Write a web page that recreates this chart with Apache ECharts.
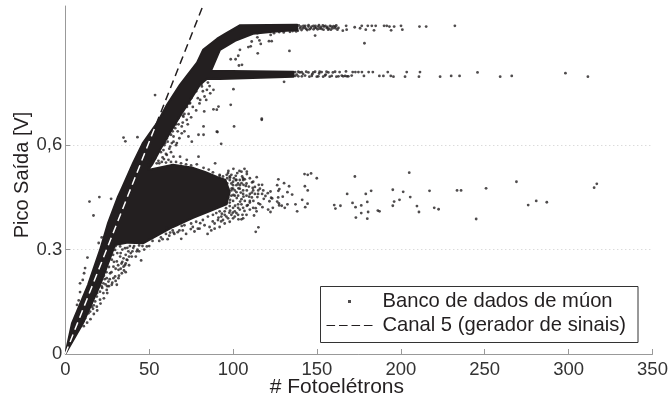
<!DOCTYPE html>
<html><head><meta charset="utf-8">
<style>html,body{margin:0;padding:0;background:#fff}#c{width:670px;height:401px}</style>
<script src="https://cdn.jsdelivr.net/npm/echarts@6/dist/echarts.min.js"></script>
</head><body><div id="c"></div>
<script>
const xTicks=[0,50,100,150,200,250,300,350];
const yTickValues=[0,0.3,0.6,0.9];
const yTickLabels=['0','0.3','0,6','0.9'];
const seriesDados='Banco de dados de múon';
const seriesCanal='Canal 5 (gerador de sinais)';
const canalLine=[[0,0],[82,1]];
const canalInsideMass=[[0,0],[54,0.6585]];
// outline of the region where the points merge into solid black
const denseMass=[[0,0],[4,.089],[13.5,.198],[20.7,.299],[25.5,.377],[31.4,.452],[33.8,.477],[40.4,.549],[46.3,.607],[54.7,.664],[60.6,.716],[68.4,.774],[78.5,.837],[82.1,.874],[90.5,.906],[95.2,.920],[104.2,.945],[138.2,.946],[138.2,.931],[123.8,.926],[111.9,.920],[101.2,.900],[92.2,.874],[89.2,.840],[86.9,.814],[136,.811],[136,.797],[92.2,.790],[84.5,.791],[80.3,.774],[77.3,.751],[69.6,.693],[62.4,.636],[56.5,.587],[51.7,.544],[49.3,.529],[64.2,.544],[76.2,.535],[83.3,.523],[90.5,.509],[95.5,.500],[98,.465],[96,.43],[88.1,.414],[76.2,.391],[64.2,.365],[54.7,.340],[46.3,.318],[37.4,.32],[29.6,.313],[20.7,.198],[10.6,.089]];
const blobDots=[[90.7,.638],[92.9,.604],[100.6,.654],[117.1,.673],[89.3,.548],[113.5,.351],[115.1,.364],[149.9,.505],[142.6,.517],[144.5,.515],[146.5,.519],[142.8,.482],[144.5,.470],[144.4,.432],[143,.422],[141.2,.443],[137.2,.430],[138.2,.410],[135.2,.458],[132.4,.465],[133.4,.482],[130.4,.491],[127,.502],[126.3,.485],[127.6,.474],[127,.469],[129.6,.452],[126.9,.450],[126.3,.438],[127.3,.433],[127.5,.427],[129,.426],[130.8,.420],[132.4,.430],[123.7,.420],[122.3,.408],[120.9,.415],[123.3,.447],[121.7,.439],[120.7,.462],[122.3,.467],[122.7,.449],[119.3,.454],[118.3,.446],[117.5,.422],[116.1,.430],[115.1,.433],[117.3,.460],[114.9,.460],[114.5,.451],[112.5,.398],[113.5,.419],[112.1,.440],[111.2,.450],[111.7,.477],[115.3,.486],[117.3,.486],[114.1,.508],[111.3,.493],[109.4,.481],[107.6,.483],[106.8,.532],[108.2,.524],[108.2,.517],[107,.502],[105.4,.510],[103.8,.526],[100.2,.532],[105,.524],[97.2,.526],[96.2,.515],[101.6,.512],[101.6,.500],[98.2,.507],[105,.491],[106.2,.486],[108.2,.470],[111.2,.464],[109.6,.452],[108.8,.428],[108.2,.426],[106.8,.411],[105.6,.400],[105,.387],[103.2,.387],[99.8,.406],[98.2,.412],[97.8,.406],[101.2,.426],[104.2,.438],[102.2,.448],[92.9,.381],[91.3,.392],[93.3,.403],[95.8,.419],[87.9,.381],[106.2,.452],[104.6,.464],[98.2,.443],[100.2,.457],[96.2,.433],[99.2,.476],[103.2,.476],[94,.50],[97,.45],[99,.49],[101,.47],[103,.455],[105,.445],[100,.44],[98,.425],[94,.51],[92,.515],[98,.50],[100,.485],[102,.50],[103,.49],[106,.47],[101,.455],[99,.47],[103,.43],[100,.42],[98,.435],[95,.41],[92,.41],[90,.405],[88,.40],[85,.395],[82,.385],[78,.38],[75,.375],[71,.37],[68,.355],[64,.355],[60,.345],[57,.335],[52,.325],[96,.395],[94,.385],[89,.375],[86,.365],[80,.36],[77,.352],[72,.345],[67,.35],[62,.34],[58,.33],[97,.52],[99,.515],[100.5,.505],[102.5,.52],[104,.50],[106,.50],[98,.51],[96.5,.505],[100,.495],[102,.485],[104,.475],[106,.46],[108,.455],[110,.46],[112,.47],[113,.48],[110,.44],[107,.44],[105,.43],[103,.42],[101,.41],[99,.40],[97,.39],[95,.40],[93,.395],[91,.385],[100,.39],[102,.405],[104,.415],[106,.42],[110,.435],[99,.455],[97,.475],[96.5,.49],[100,.475],[102,.465],[104,.485],[106,.505],[108,.49],[110,.505],[112,.495],[113,.46],[115,.47],[116,.475],[118,.47],[110,.415],[112,.42],[114,.41],[108,.40],[106,.39],[103,.40],[101,.395],[98,.38],[95,.375],[92,.365],[89,.36],[87,.355],[83,.37],[79,.36],[76,.365],[70,.355],[65,.345],[61,.33],[56,.325],[50,.31]];
const farDots=[[160.3,.428],[161,.418],[164,.426],[168,.460],[172.6,.510],[171.2,.434],[173,.422],[176.4,.427],[173.2,.392],[176.4,.405],[180,.389],[180.5,.408],[180,.437],[179.1,.460],[182.3,.469],[186.3,.412],[187.3,.410],[195.2,.426],[196,.438],[195.2,.472],[199.2,.443],[201.4,.466],[205,.521],[205.6,.451],[209.6,.425],[210.8,.408],[217.1,.469],[219.9,.420],[222.5,.416],[233.5,.470],[235.9,.470],[250.8,.476],[244.9,.388],[268.9,.495],[275.9,.428],[280.7,.440],[287,.436],[315.2,.478],[316.8,.489]];
const plateauTopDots=[[148.9,.915],[178.3,.893],[133.6,.871],[114.7,.864],[98.6,.847],[101.5,.847],[103.1,.857],[103.5,.829],[105.3,.831],[104.1,.874],[109.1,.882],[110.5,.884],[111.1,.898],[114.5,.910],[115.7,.901],[116.5,.891],[121.4,.899],[123,.899],[122.4,.917],[124.4,.922],[114.5,.922],[165.4,.929],[167.7,.932],[167.4,.943],[172.5,.939],[175.7,.936],[176.7,.943],[179.1,.932],[180.3,.943],[182.7,.943],[185,.943],[184,.930],[190,.943],[191.6,.943],[193.2,.941],[194.2,.930],[196,.941],[200.1,.943],[200.9,.932],[211.1,.941],[215.1,.941],[232.2,.943],[139.9,.936],[141.9,.943],[143.5,.934],[144.9,.941],[146.3,.936],[147.9,.943],[149.5,.937],[150.8,.941],[152.8,.934],[154.2,.941],[155.8,.937],[157.8,.943],[159.4,.936],[160.8,.941],[162.2,.932],[162.8,.937],[140.5,.941],[142.8,.938],[145.6,.933],[148.6,.938],[151.7,.935],[153.5,.944],[156.7,.932],[158.6,.941],[161.5,.944],[138.6,.929],[135.5,.928],[130.2,.924],[127.5,.925],[139.2,.944],[140.8,.931],[141.7,.936],[143,.943],[144.2,.931],[145,.945],[146.8,.941],[148,.933],[149.1,.943],[150.4,.933],[151.2,.945],[152.3,.939],[153.9,.932],[155,.943],[156.2,.940],[157.1,.935],[158.3,.932],[159.9,.942],[161,.936],[136.8,.93],[133.9,.926],[137.6,.927]];
const plateauLowDots=[[130.4,.782],[100.2,.761],[98.6,.716],[117.1,.676],[167.3,.812],[171.3,.810],[172.9,.810],[174.7,.810],[176.8,.810],[180.8,.810],[183.3,.810],[192.2,.810],[203.5,.810],[211.4,.810],[178,.799],[187.2,.799],[189.6,.799],[194,.799],[195.6,.797],[202.5,.797],[210.8,.797],[223.4,.797],[230,.799],[235,.799],[245.7,.809],[259.2,.797],[266.1,.799],[298.1,.807],[311.5,.797],[137,.810],[137,.799],[138.9,.811],[138.9,.798],[140.9,.810],[142.9,.800],[144.9,.809],[146.9,.799],[148.9,.811],[150.8,.798],[152.8,.810],[154.8,.800],[156.8,.809],[158.8,.799],[160.8,.811],[162.8,.798],[164.8,.800],[166.8,.799],[168.7,.798],[170.7,.800],[138,.803],[141.7,.805],[147.2,.804],[151.3,.806],[155.2,.803],[139.8,.809],[141,.798],[143.6,.811],[145.5,.797],[147.8,.809],[149.9,.797],[151.6,.811],[153.7,.797],[155.7,.811],[157.6,.797],[159.5,.809],[161.6,.797],[163.5,.810],[165.6,.798],[167.9,.798]];
const gapDots=[[53.5,.744],[34.7,.622],[35.8,.611],[43,.623],[81.4,.769],[84.4,.759],[86.4,.749],[88.3,.759],[82.8,.697],[88.3,.703],[91.3,.711],[90.3,.702],[80.4,.730],[74.4,.721],[72.4,.673],[69.4,.654],[65.5,.649],[64.5,.625],[60.5,.620],[58.5,.586],[62.5,.596],[66.5,.606],[69.4,.634],[73.4,.625],[75.4,.610],[79.4,.630],[82.4,.630],[90.3,.639],[79.4,.567],[82.4,.654],[72.4,.558],[68.4,.567],[64.5,.567],[60.5,.572],[70.4,.682],[67.5,.678],[63.5,.606],[59.5,.606],[54.5,.548],[51.6,.553],[49.6,.543],[78.4,.545],[82.4,.535],[57,.58],[59,.60],[63,.63],[66,.66],[70,.685],[72.5,.71],[75,.735],[78,.755],[81,.775],[55.5,.555],[52,.56],[57.5,.552],[60,.55],[63,.552],[56,.548],[58.8,.56],[61.5,.558],[66,.552],[69,.548],[72,.545],[75,.542],[53.5,.562],[50.5,.558],[64,.64],[61,.61],[67.5,.66],[71,.69],[74,.72],[85.5,.530],[88,.522],[92,.512],[83,.74],[84,.73],[80,.72],[78,.70],[75,.68],[73,.66],[71,.64],[68,.62],[66,.60],[63,.58],[60,.575],[58,.565],[86,.77],[85,.78],[82,.755],[79,.735],[76,.71],[73.5,.69],[70,.665],[67,.64],[64.5,.61],[62,.59]];
const lowerDots=[[14.4,.438],[16.8,.398],[20.3,.451],[27.3,.446],[13.2,.277],[11.8,.247],[11.2,.232],[10.4,.213],[8.8,.203],[8.8,.178],[8,.154],[7,.141],[19.9,.319],[21.7,.335],[12.8,.136],[14.8,.151],[16.8,.165],[18.8,.136],[20.7,.156],[22.7,.175],[24.7,.184],[27.7,.199],[30.7,.199],[29.7,.223],[31.7,.242],[34.7,.251],[33.7,.232],[36.6,.271],[39.6,.280],[42.6,.295],[37.6,.295],[32.7,.280],[28.7,.251],[24.7,.218],[21.7,.194],[18.8,.165],[15.8,.136],[13.8,.117],[11.8,.103],[26.7,.232],[30.7,.266],[34.7,.275],[35.6,.304],[32.7,.309],[29.7,.299],[27.7,.271],[23.7,.242],[20.7,.218],[22.7,.203],[25.7,.208],[28.7,.218],[31.7,.218],[18.8,.184],[17.8,.151],[14.8,.122],[20.7,.179],[45.2,.269],[48.6,.309],[40.5,.305],[44,.312],[36,.285],[38.5,.31],[33.5,.26],[26,.25],[24,.20],[16.5,.13],[19.5,.20],[23,.225],[30,.245],[27,.29],[22,.19],[21,.21],[19,.175],[17,.14],[15.5,.145],[13,.125],[12,.112],[11,.095],[10,.10],[14,.135],[16,.155],[18,.172],[23.5,.215],[25,.195],[26.5,.215],[27.5,.235],[29,.265],[31,.29],[33,.29],[34,.265],[31.5,.255],[28.5,.285],[30,.31],[34,.30],[37,.305],[39,.29],[41,.31],[35.5,.255],[26,.27],[24.5,.235],[22.5,.245],[21.5,.225],[20,.205],[18,.195],[33,.245],[36,.26],[38,.28],[43,.30],[46,.31],[60.5,.362],[62.5,.349],[64.5,.349],[66.5,.371],[69.4,.368],[69.1,.331],[74.8,.359],[80.4,.376],[84.8,.345],[37,.27],[40,.295],[42,.28],[35,.24],[32,.225],[30,.21],[28,.205],[26,.195],[25,.175],[23,.16],[21,.145],[19,.125],[17,.115],[15,.10],[13,.09],[11,.08],[9,.08],[44,.295],[47,.30],[38,.255],[36,.235]];
const dotSeries=[].concat(blobDots,farDots,plateauTopDots,plateauLowDots,gapDots,lowerDots);

const ink='#231f20', tickText='#333', axisGrey='#999';
const font='Liberation Sans';
const chart=echarts.init(document.getElementById('c'),null,{renderer:'canvas'});
chart.setOption({
  animation:false,
  backgroundColor:'#fff',
  textStyle:{fontFamily:font},
  grid:{left:65.3,right:17.5,top:6,bottom:47,outerBoundsMode:'none'},
  xAxis:{type:'value',min:0,max:350,interval:50,
    name:'# Fotoelétrons',nameLocation:'middle',nameGap:23,nameMoveOverlap:false,
    nameTextStyle:{fontSize:21,color:ink,fontFamily:font,padding:[0,44,0,0]},
    axisLine:{lineStyle:{color:axisGrey,width:1}},
    axisTick:{inside:true,length:5,lineStyle:{color:axisGrey}},
    axisLabel:{fontSize:18.5,color:tickText,margin:6,fontFamily:font,hideOverlap:false,
      formatter:v=>xTicks.includes(v)?String(v):''},
    splitLine:{show:false}},
  yAxis:{type:'value',min:0,max:1,interval:0.3,
    name:'Pico Saída [V]',nameLocation:'middle',nameGap:33,nameMoveOverlap:false,
    nameTextStyle:{fontSize:20,color:ink,fontFamily:font,padding:[0,0,0,10]},
    axisLine:{show:true,lineStyle:{color:axisGrey,width:1}},
    axisTick:{show:true,inside:true,length:5,lineStyle:{color:axisGrey},customValues:yTickValues},
    axisLabel:{fontSize:18.5,color:tickText,margin:3,fontFamily:font,showMinLabel:true,showMaxLabel:false,
      customValues:yTickValues,
      formatter:v=>{const i=yTickValues.findIndex(t=>Math.abs(t-v)<1e-6);return i<0?'':yTickLabels[i];}},
    splitLine:{show:true,showMinLine:false,showMaxLine:false,lineStyle:{color:'#ccc',type:[1,3],width:1}}},
  legend:{
    left:320.5,top:286.5,orient:'vertical',
    padding:[5,12,7,6],itemGap:4,itemWidth:46,itemHeight:20,
    backgroundColor:'#fff',borderColor:'#333',borderWidth:1,borderRadius:0,
    textStyle:{fontSize:20.2,color:ink,fontFamily:font,padding:[0,0,0,5]},
    data:[
      {name:seriesDados,icon:'path://M0 0L0 0M460 200L460 200M215 85h30v30h-30z',itemStyle:{color:ink}},
      {name:seriesCanal,icon:'path://M0 0L0 0M460 200L460 200M0 95h86v10h-86zM125 95h86v10h-86zM250 95h86v10h-86zM374 95h86v10h-86z',itemStyle:{color:ink}}
    ],
    selectedMode:false},
  series:[
    {type:'custom',name:'massa densa',silent:true,z:2,clip:true,data:[0],
      renderItem:(p,api)=>({type:'polygon',
        shape:{points:denseMass.map(d=>api.coord(d))},
        style:{fill:ink,stroke:ink,lineWidth:2,lineJoin:'round'}})},
    {type:'scatter',name:seriesDados,data:dotSeries,symbol:'circle',symbolSize:2.8,z:3,
      itemStyle:{color:ink},large:false},
    {type:'line',name:seriesCanal,data:canalLine,symbol:'none',z:4,clip:true,
      lineStyle:{color:ink,width:1.5,type:[8,5]},itemStyle:{color:ink}},
    {type:'line',name:'canal sobre massa',data:canalInsideMass,symbol:'none',z:5,
      lineStyle:{color:'#fff',width:1.5,type:[8,5]}}
  ]
});
</script></body></html>
